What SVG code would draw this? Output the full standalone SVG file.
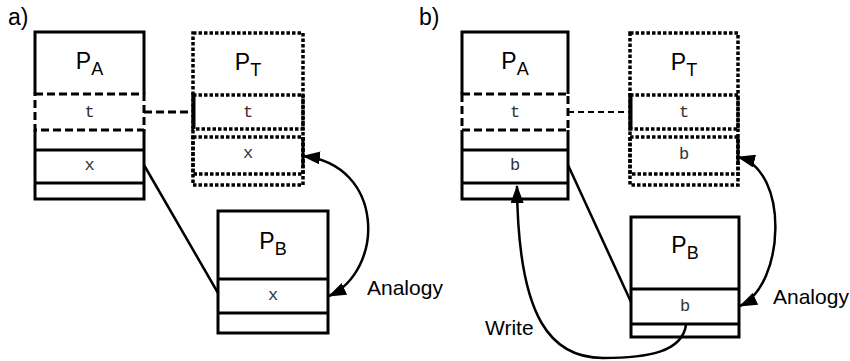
<svg xmlns="http://www.w3.org/2000/svg" width="850" height="361" viewBox="0 0 850 361">
<style>
.solid{fill:none;stroke:#000;stroke-width:3}
.dash{fill:none;stroke:#000;stroke-width:3;stroke-dasharray:8 4}
.dot{fill:none;stroke:#000;stroke-width:3.5;stroke-dasharray:3.5 2}
.lbl{font-family:"Liberation Sans",Arial,sans-serif;font-size:23px;fill:#000}
.name{font-family:"Liberation Sans",Arial,sans-serif;font-size:23px;fill:#000;text-anchor:middle}
.sub{font-size:18px}
.mono{font-family:"Liberation Mono","Courier New",monospace;font-size:17px;fill:#333;text-anchor:middle}
.cap{font-family:"Liberation Sans",Arial,sans-serif;font-size:21px;fill:#000}
.conn{fill:none;stroke:#000;stroke-width:2.5}
</style>
<defs>
<marker id="ah" markerWidth="18" markerHeight="13" refX="17" refY="6.5" orient="auto-start-reverse" markerUnits="userSpaceOnUse">
<path d="M0,0 L18,6.5 L0,13 z" fill="#000"/>
</marker>
</defs>
<rect width="850" height="361" fill="#fff"/>
<text class="lbl" x="8" y="25">a)</text>
<text class="lbl" x="419" y="25">b)</text>

<!-- Panel a -->
<g id="a_PA">
<path class="solid" d="M35,94 V32 H144 V94"/>
<rect class="dash" x="35" y="94" width="109" height="36"/>
<path class="solid" d="M35,130 V199 H144 V130 M35,150 H144 M35,183 H144"/>
<text class="name" x="89.5" y="69">P<tspan class="sub" dy="6">A</tspan></text>
<text class="mono" x="89.5" y="117">t</text>
<text class="mono" x="89.5" y="170">x</text>
</g>
<g id="a_PT">
<rect class="dot" x="193" y="33" width="110" height="152"/>
<rect class="dot" x="193" y="95" width="110" height="34"/>
<rect class="dot" x="193" y="137" width="110" height="37"/>
<path class="solid" d="M194,95 V129 M303,137 V165"/>
<text class="name" x="248" y="70">P<tspan class="sub" dy="6">T</tspan></text>
<text class="mono" x="248" y="117">t</text>
<text class="mono" x="248" y="158">x</text>
</g>
<g id="a_PB">
<rect class="solid" x="218" y="211" width="110" height="122"/>
<path class="solid" d="M218,279 H328 M218,313 H328"/>
<text class="name" x="273" y="249">P<tspan class="sub" dy="6">B</tspan></text>
<text class="mono" x="273" y="300">x</text>
</g>

<!-- Panel b -->
<g id="b_PA">
<path class="solid" d="M462,94 V32 H568 V94"/>
<rect class="dash" x="462" y="94" width="106" height="36"/>
<path class="solid" d="M462,130 V199 H568 V130 M462,150 H568 M462,183 H568"/>
<text class="name" x="515" y="69">P<tspan class="sub" dy="6">A</tspan></text>
<text class="mono" x="515" y="117">t</text>
<text class="mono" x="515" y="170">b</text>
</g>
<g id="b_PT">
<rect class="dot" x="630" y="33" width="108" height="152"/>
<rect class="dot" x="630" y="95" width="108" height="34"/>
<rect class="dot" x="630" y="137" width="108" height="37"/>
<path class="solid" d="M631,95 V129 M738,137 V165"/>
<text class="name" x="684" y="70">P<tspan class="sub" dy="6">T</tspan></text>
<text class="mono" x="684" y="117">t</text>
<text class="mono" x="684" y="159">b</text>
</g>
<g id="b_PB">
<rect class="solid" x="631" y="217" width="108" height="120"/>
<path class="solid" d="M631,289 H739 M631,324 H739"/>
<text class="name" x="685" y="253">P<tspan class="sub" dy="6">B</tspan></text>
<text class="mono" x="685" y="311">b</text>
</g>

<g id="connectors">
<path class="dash" d="M144,112 H193"/>
<path class="conn" d="M144,165 L218,293"/>
<path class="conn" d="M303,156 C385,165 385,270 329,296" marker-start="url(#ah)" marker-end="url(#ah)"/>
<path d="M568,112 H630" fill="none" stroke="#000" stroke-width="2.2" stroke-dasharray="6 4"/>
<path class="conn" d="M568,165 L631,302"/>
<path class="conn" d="M738,157 C790,170 785,285 740,306" marker-start="url(#ah)" marker-end="url(#ah)"/>
<path class="conn" d="M686,325 C682,352 648,358 603,358 C553,358 518,322 517,186" marker-end="url(#ah)"/>
</g>

<text class="cap" x="367" y="295">Analogy</text>
<text class="cap" x="773" y="304">Analogy</text>
<text class="cap" x="485" y="335">Write</text>
</svg>
